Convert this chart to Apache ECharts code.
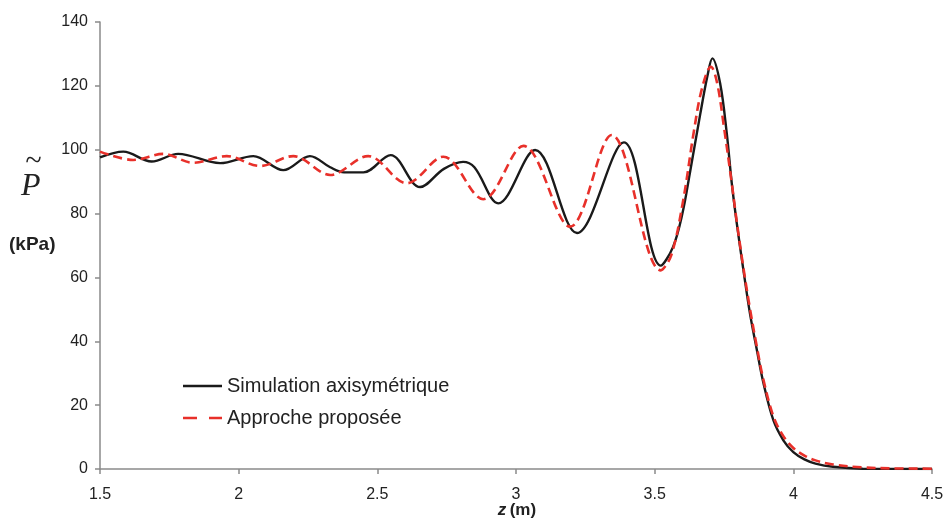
<!DOCTYPE html>
<html>
<head>
<meta charset="utf-8">
<script src="https://cdn.jsdelivr.net/npm/echarts@6/dist/echarts.min.js"></script>
<style>html,body{margin:0;padding:0;background:#fff}#c{width:947px;height:522px}</style>
</head>
<body>
<div id="c"></div>
<script>
var seriesNames = ['Simulation axisymétrique', 'Approche proposée'];
var xTicks = ['1.5', '2', '2.5', '3', '3.5', '4', '4.5'];
var yTicks = ['0', '20', '40', '60', '80', '100', '120', '140'];

var simZ = [1.5, 1.584, 1.686, 1.782, 1.933, 2.053, 2.161, 2.257, 2.33, 2.38, 2.45, 2.548, 2.654, 2.74, 2.809, 2.85, 2.936, 3.069, 3.22, 3.389, 3.522, 3.566, 3.6, 3.627, 3.664, 3.69, 3.708, 3.736, 3.76, 3.778, 3.796, 3.82, 3.844, 3.868, 3.892, 3.928, 3.964, 4.0, 4.04, 4.08, 4.143, 4.25, 4.5];
var simP = [97.6, 99.4, 96.3, 98.7, 95.8, 98.0, 93.6, 98.0, 94.5, 92.9, 92.9, 98.3, 88.3, 94.0, 96.2, 94.5, 83.2, 99.9, 73.9, 102.3, 63.7, 69.5, 80.0, 92.7, 111.0, 123.0, 128.6, 120.8, 105.1, 89.5, 77.0, 62.3, 48.5, 37.5, 27.0, 15.3, 9.0, 5.3, 3.0, 1.7, 0.7, 0.1, 0.0];

var propZ = [1.5, 1.62, 1.728, 1.836, 1.957, 2.077, 2.197, 2.33, 2.467, 2.606, 2.738, 2.882, 3.027, 3.195, 3.345, 3.522, 3.56, 3.603, 3.64, 3.67, 3.703, 3.725, 3.75, 3.778, 3.796, 3.82, 3.844, 3.868, 3.892, 3.928, 3.964, 4.0, 4.04, 4.08, 4.143, 4.25, 4.35, 4.5];
var propP = [99.4, 96.8, 98.7, 95.9, 98.0, 94.9, 98.0, 92.1, 98.0, 89.5, 97.8, 84.5, 101.2, 75.9, 104.6, 62.2, 67.0, 84.2, 105.0, 119.0, 126.0, 121.0, 107.0, 89.5, 77.5, 63.0, 50.0, 38.5, 28.0, 16.5, 10.3, 6.6, 4.2, 2.7, 1.4, 0.5, 0.2, 0.1];

function pairs(xs, ys) { return xs.map(function (x, i) { return [x, ys[i]]; }); }

var chart = echarts.init(document.getElementById('c'));
var axisColor = '#8a8a8a';
var font = 'Liberation Sans, Arial, sans-serif';
chart.setOption({
  animation: false,
  backgroundColor: '#fff',
  grid: { left: 100, right: 15, top: 22, bottom: 53, outerBoundsMode: 'none', containLabel: false },
  legend: {
    orient: 'vertical',
    left: 178,
    top: 371,
    itemWidth: 39,
    itemHeight: 14,
    itemGap: 12,
    textStyle: { fontFamily: font, fontSize: 20, color: '#222', padding: [0, 0, 0, 0] },
    data: [
      { name: seriesNames[0], icon: 'path://M0,0H39V2.5H0Z', itemStyle: { color: '#1a1a1a' } },
      { name: seriesNames[1], icon: 'path://M0,0H14V2.5H0ZM26,0H39V2.5H26Z', itemStyle: { color: '#e8302a' } }
    ]
  },
  xAxis: {
    type: 'value', min: 1.5, max: 4.5, interval: 0.5,
    splitLine: { show: false },
    axisLine: { lineStyle: { color: axisColor, width: 1.5 } },
    axisTick: { inside: false, length: 5, lineStyle: { color: axisColor, width: 1.5 } },
    axisLabel: {
      margin: 18, fontFamily: font, fontSize: 16, color: '#222',
      formatter: function (v) { var i = Math.round((v - 1.5) / 0.5); return xTicks[i]; }
    }
  },
  yAxis: {
    type: 'value', min: 0, max: 140, interval: 20,
    splitLine: { show: false },
    axisLine: { show: true, lineStyle: { color: axisColor, width: 1.5 } },
    axisTick: { show: true, inside: false, length: 5, lineStyle: { color: axisColor, width: 1.5 } },
    axisLabel: {
      margin: 12, fontFamily: font, fontSize: 16, color: '#222',
      formatter: function (v) { return yTicks[Math.round(v / 20)]; }
    }
  },
  graphic: [
    { type: 'text', left: 25, top: 147, style: { text: '~', font: 'italic 30px "Liberation Serif", serif', fill: '#222' } },
    { type: 'text', left: 21, top: 171, style: { text: 'P', font: 'italic 32px "Liberation Serif", serif', fill: '#222' } },
    { type: 'text', left: 9, top: 235, style: { text: '(kPa)', font: 'bold 19px "Liberation Sans", Arial, sans-serif', fill: '#222' } },
    {
      type: 'text', x: 517, y: 510,
      style: {
        text: '{i|z} {b|(m)}', align: 'center', verticalAlign: 'middle',
        rich: {
          i: { fontFamily: font, fontSize: 17, fontWeight: 'bold', fontStyle: 'italic', fill: '#222' },
          b: { fontFamily: font, fontSize: 17, fontWeight: 'bold', fill: '#222' }
        }
      }
    }
  ],
  series: [
    {
      name: seriesNames[1], type: 'line', data: pairs(propZ, propP), smooth: 0.35, showSymbol: false,
      lineStyle: { color: '#e8302a', width: 2.6, type: [9, 5] }, itemStyle: { color: '#e8302a' }, z: 3
    },
    {
      name: seriesNames[0], type: 'line', data: pairs(simZ, simP), smooth: 0.35, showSymbol: false,
      lineStyle: { color: '#1a1a1a', width: 2.4 }, itemStyle: { color: '#1a1a1a' }, z: 2
    }
  ]
});
</script>
</body>
</html>
